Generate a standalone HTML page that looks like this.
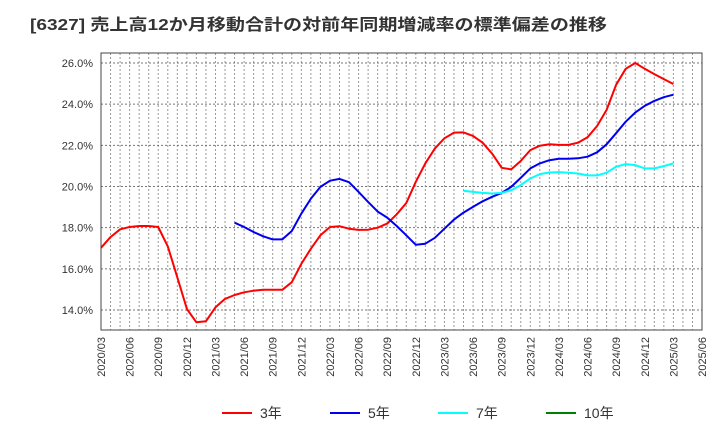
<!DOCTYPE html>
<html><head><meta charset="utf-8"><style>
body{margin:0;background:#fff;font-family:"Liberation Sans","Noto Sans CJK JP",sans-serif;}
</style></head><body>
<svg width="720" height="440" xmlns="http://www.w3.org/2000/svg">
<text x="30" y="30" font-size="16" font-weight="bold" fill="#333" textLength="577" lengthAdjust="spacingAndGlyphs">[6327]  売上高12か月移動合計の対前年同期増減率の標準偏差の推移</text>
<g id="grid"></g>
<g id="yt"></g>
<g id="xt"></g>
<g id="series"></g>
<rect x="101" y="53" width="601" height="277" fill="none" stroke="#444" stroke-width="1"/>
<g id="legend"></g>
</svg>
<script>
const yTicks=[14,16,18,20,22,24,26];
const xLabels=["2020/03","2020/06","2020/09","2020/12","2021/03","2021/06","2021/09","2021/12","2022/03","2022/06","2022/09","2022/12","2023/03","2023/06","2023/09","2023/12","2024/03","2024/06","2024/09","2024/12","2025/03","2025/06"];
const s3=[17.02,17.54,17.92,18.03,18.08,18.08,18.03,17.09,15.59,14.05,13.4,13.45,14.13,14.54,14.73,14.86,14.94,14.98,14.98,14.98,15.35,16.24,16.98,17.63,18.03,18.07,17.95,17.89,17.9,18.0,18.2,18.65,19.2,20.23,21.12,21.85,22.34,22.62,22.63,22.46,22.13,21.6,20.91,20.83,21.24,21.77,21.98,22.05,22.02,22.02,22.13,22.39,22.94,23.72,24.94,25.72,26.0,25.72,25.46,25.22,24.98];
const s5=[null,null,null,null,null,null,null,null,null,null,null,null,null,null,18.24,18.03,17.79,17.58,17.43,17.43,17.84,18.68,19.41,19.98,20.28,20.37,20.21,19.74,19.25,18.78,18.49,18.08,17.63,17.17,17.22,17.51,17.95,18.39,18.73,19.01,19.28,19.5,19.69,19.98,20.42,20.88,21.12,21.28,21.35,21.35,21.37,21.45,21.66,22.05,22.59,23.15,23.59,23.92,24.16,24.34,24.46];
const s7=[];for(let i=0;i<38;i++)s7.push(null);
s7.push(19.79,19.74,19.69,19.66,19.69,19.82,20.07,20.39,20.6,20.68,20.7,20.67,20.63,20.54,20.54,20.67,20.96,21.09,21.04,20.88,20.88,20.99,21.12);
const s10=[];
const NS="http://www.w3.org/2000/svg";
const X0=101,X1=702,Y0=53,Y1=330;
const nMonths=63;
const xs=i=>X0+i*(X1-X0)/nMonths;
const ys=v=>310-(v-14)*(247/12);
function mk(t,a,p){const e=document.createElementNS(NS,t);for(const k in a)e.setAttribute(k,a[k]);p.appendChild(e);return e;}
const grid=document.getElementById('grid'),yt=document.getElementById('yt'),xt=document.getElementById('xt');
for(let m=0;m<=nMonths;m++){const l=mk('line',{x1:xs(m),x2:xs(m),y1:Y0,y2:Y1,stroke:'#999','stroke-dasharray':'2,2','stroke-width':1},grid);

}
yTicks.forEach(v=>{const l=mk('line',{x1:X0,x2:X1,y1:ys(v),y2:ys(v),stroke:'#777','stroke-dasharray':'2,2','stroke-width':1},grid);


const t=mk('text',{x:93,y:ys(v)+4,'text-anchor':'end','font-size':11,fill:'#333'},yt);t.textContent=v.toFixed(1)+'%';

});
xLabels.forEach((s,k)=>{const x=xs(k*3);const t=mk('text',{x:0,y:0,'text-anchor':'end','font-size':11,fill:'#333',transform:`translate(${x+4},337) rotate(-90)`},xt);t.textContent=s;

});
const ser=document.getElementById('series');
function draw(arr,color,name){let d='',pen=false;arr.forEach((v,i)=>{if(v==null){pen=false;return;}d+=(pen?'L':'M')+xs(i).toFixed(1)+','+ys(v).toFixed(1);pen=true;});
if(!d)return;const p=mk('path',{d:d,fill:'none',stroke:color,'stroke-width':2,'stroke-linejoin':'round'},ser);

}
draw(s3,'#ff0000','series-3yr');draw(s5,'#0000ee','series-5yr');draw(s7,'#00ffff','series-7yr');draw(s10,'#008000','series-10yr');
const lg=document.getElementById('legend');
[['3年','#ff0000',222],['5年','#0000ee',330],['7年','#00ffff',438],['10年','#008000',546]].forEach(([n,c,x])=>{
const g=mk('g',{},lg);


mk('line',{x1:x,x2:x+30,y1:413,y2:413,stroke:c,'stroke-width':2},g);
const t=mk('text',{x:x+38,y:418,'font-size':14,fill:'#333'},g);t.textContent=n;});
</script>
</body></html>
